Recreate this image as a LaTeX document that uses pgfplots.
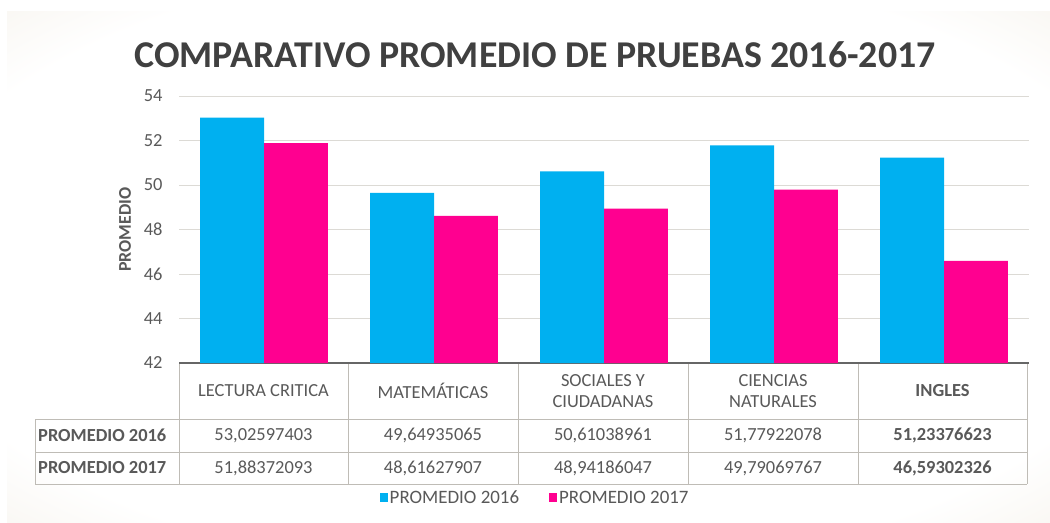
\documentclass[border=0pt]{standalone}
\usepackage{pgfplots}
\pgfplotsset{compat=1.18}
\usepackage{fontspec}
\setmainfont{Carlito}
\definecolor{c16}{HTML}{00B0F0}
\definecolor{c17}{HTML}{FF0090}
\definecolor{txt}{HTML}{595959}
\definecolor{ttl}{HTML}{404040}
\definecolor{bga}{HTML}{F1ECE2}
\definecolor{bgb}{HTML}{DED8CD}
\definecolor{bgd}{HTML}{D3CEC6}
\definecolor{gridc}{HTML}{DCDAD5}
\definecolor{tabc}{HTML}{BFBCB6}
\pgfdeclareradialshading{bgshade}{\pgfpoint{0bp}{0bp}}{color(0bp)=(white); color(30bp)=(white); color(44bp)=(bga); color(56bp)=(bgb); color(72bp)=(bgd)}

\pgfplotstableread{
x v16 v17
0 53.02597403 51.88372093
1 49.64935065 48.61627907
2 50.61038961 48.94186047
3 51.77922078 49.79069767
4 51.23376623 46.59302326
}\datatab

\begin{document}
\begin{tikzpicture}
\fill[white] (0,0) rectangle (1050bp,-523bp);
\shade[shading=bgshade] (7bp,-11bp) rectangle (1050bp,-523bp);
\node[font=\fontsize{38}{40}\selectfont\bfseries, text=ttl] at (535bp,-55bp) {COMPARATIVO PROMEDIO DE PRUEBAS 2016-2017};
\begin{axis}[
  at={(179bp,-363bp)}, anchor=south west,
  scale only axis, width=850bp, height=267bp,
  xmin=-0.5, xmax=4.5, ymin=42, ymax=54,
  ytick={42,44,...,54}, xtick=\empty,
  axis x line*=bottom, axis y line*=left,
  y axis line style={draw=none},
  x axis line style={draw=black!60, line width=2.2bp},
  major tick length=0pt,
  ymajorgrids, grid style={gridc, line width=0.8bp},
  ybar,
  /pgf/number format/assume math mode=true,
  yticklabel style={font=\fontsize{18.5}{18}\selectfont, text=txt, xshift=-13bp},
  ylabel={PROMEDIO},
  ylabel style={font=\fontsize{18}{18}\selectfont\bfseries, text=txt, at={(axis description cs:-0.0635,0.5)}, anchor=center},
  legend columns=2,
  legend style={draw=none, fill=none, at={(axis description cs:0.419,-0.505)}, anchor=center,
    font=\fontsize{19}{19}\selectfont, text=txt,
    /tikz/every even column/.append style={column sep=28bp}},
  legend image code/.code={\fill[#1,draw=none] (0bp,-4.5bp) rectangle (8bp,4.5bp);},
]
\addplot[fill=c16, draw=none, bar width=0.376, bar shift=-0.188] table[x=x, y=v16] {\datatab};
\addlegendentry{PROMEDIO 2016}
\addplot[fill=c17, draw=none, bar width=0.376, bar shift=0.188] table[x=x, y=v17] {\datatab};
\addlegendentry{PROMEDIO 2017}
\end{axis}
% data table
\begin{scope}[tabc, line width=0.8bp]
\foreach \xx in {179,348,518,688,858,1027} {\draw (\xx bp,-364bp) -- (\xx bp,-484bp);}
\draw (35bp,-419bp) -- (1027bp,-419bp);
\draw (35bp,-452bp) -- (1027bp,-452bp);
\draw (35bp,-484bp) -- (1027bp,-484bp);
\draw (35bp,-419bp) -- (35bp,-484bp);
\end{scope}
\begin{scope}[every node/.style={font=\fontsize{18.5}{21}\selectfont, text=txt, align=center, inner sep=0pt}]
\node at (263.5bp,-391bp) {LECTURA CRITICA};
\node at (433bp,-391bp) {MATEMÁTICAS};
\node at (603bp,-391bp) {SOCIALES Y\\CIUDADANAS};
\node at (773bp,-391bp) {CIENCIAS\\NATURALES};
\node[font=\fontsize{18.5}{21}\selectfont\bfseries] at (942.5bp,-391bp) {INGLES};
\node[anchor=west, font=\fontsize{18.5}{21}\selectfont\bfseries] at (38bp,-435.5bp) {PROMEDIO 2016};
\node[anchor=west, font=\fontsize{18.5}{21}\selectfont\bfseries] at (38bp,-468bp) {PROMEDIO 2017};
\node at (263.5bp,-435.5bp) {53,02597403};
\node at (433bp,-435.5bp) {49,64935065};
\node at (603bp,-435.5bp) {50,61038961};
\node at (773bp,-435.5bp) {51,77922078};
\node[font=\fontsize{18.5}{21}\selectfont\bfseries] at (942.5bp,-435.5bp) {51,23376623};
\node at (263.5bp,-468bp) {51,88372093};
\node at (433bp,-468bp) {48,61627907};
\node at (603bp,-468bp) {48,94186047};
\node at (773bp,-468bp) {49,79069767};
\node[font=\fontsize{18.5}{21}\selectfont\bfseries] at (942.5bp,-468bp) {46,59302326};
\end{scope}
\end{tikzpicture}
\end{document}
